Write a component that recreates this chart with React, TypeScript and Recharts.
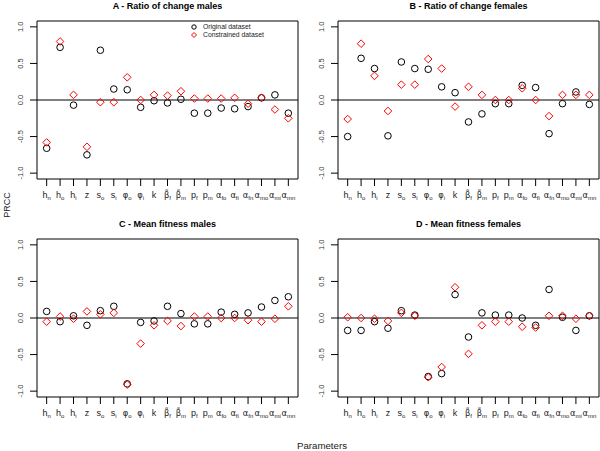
import React from "react"
import { ScatterChart, Scatter, XAxis, YAxis, ReferenceLine, ReferenceArea } from "recharts"

// parameter names on the x axis: base symbol + subscript
const tickBase = ["h", "h", "h", "z", "s", "s", "φ", "φ", "k", "β̃", "β̃", "p", "p", "α", "α", "α", "α", "α", "α"]
const tickSub = ["n", "o", "i", "", "o", "i", "o", "i", "", "f", "m", "f", "m", "fo", "fi", "fn", "mo", "mi", "mn"]
const yTicks = [-1, -0.5, 0, 0.5, 1]

// A - ratio of change males
const origA = [-0.66, 0.72, -0.07, -0.75, 0.68, 0.15, 0.14, -0.1, -0.01, -0.04, 0.01, -0.18, -0.18, -0.11, -0.12, -0.09, 0.03, 0.07, -0.18]
const consA = [-0.58, 0.8, 0.07, -0.64, -0.03, -0.03, 0.31, 0.0, 0.07, 0.06, 0.12, 0.02, 0.02, 0.02, 0.03, -0.05, 0.03, -0.13, -0.25]
// B - ratio of change females
const origB = [-0.5, 0.57, 0.43, -0.49, 0.52, 0.43, 0.42, 0.18, 0.1, -0.3, -0.19, -0.05, -0.05, 0.2, 0.17, -0.46, -0.05, 0.11, -0.06]
const consB = [-0.26, 0.77, 0.33, -0.15, 0.21, 0.21, 0.56, 0.43, -0.09, 0.18, 0.07, 0.0, 0.0, 0.16, 0.0, -0.22, 0.07, 0.07, 0.07]
// C - mean fitness males
const origC = [0.09, -0.05, 0.03, -0.1, 0.1, 0.16, -0.9, -0.06, -0.04, 0.16, 0.06, -0.08, -0.08, 0.08, 0.05, 0.07, 0.15, 0.24, 0.29]
const consC = [-0.05, 0.02, -0.01, 0.09, 0.05, 0.07, -0.91, -0.35, -0.1, -0.04, -0.11, 0.02, 0.02, 0.0, 0.0, -0.03, -0.05, -0.01, 0.16]
// D - mean fitness females
const origD = [-0.17, -0.17, -0.05, -0.14, 0.1, 0.04, -0.8, -0.76, 0.32, -0.26, 0.07, 0.04, 0.04, 0.0, -0.1, 0.39, 0.01, -0.17, 0.03]
const consD = [0.01, 0.0, -0.01, -0.04, 0.07, 0.03, -0.81, -0.67, 0.42, -0.49, -0.1, -0.05, -0.05, -0.12, -0.13, 0.03, 0.03, -0.01, 0.03]

const FONT = '"Liberation Sans", Arial, Helvetica, sans-serif'
const GREEK = '"DejaVu Sans", "Noto Sans", sans-serif'
const X0 = 0.28
const X1 = 19.72
const Y0 = -1.08
const Y1 = 1.08

const isGreek = (s: string) => /[α-ω]/.test(s)

const circleShape = (p: any) => (
  <circle cx={p.cx} cy={p.cy} r={3.3} fill="none" stroke="#000" strokeWidth={1} />
)
const diamondShape = (p: any) => {
  const d = 3.8
  return (
    <path
      d={`M${p.cx},${p.cy - d}L${p.cx + d},${p.cy}L${p.cx},${p.cy + d}L${p.cx - d},${p.cy}Z`}
      fill="none"
      stroke="#ff0000"
      strokeWidth={1}
    />
  )
}

const XTick = (p: any) => {
  const i = Math.round(p.payload.value) - 1
  const base = tickBase[i]
  const greek = isGreek(base)
  return (
    <text x={p.x} y={p.y + 10} textAnchor="middle" fontFamily={FONT} fill="#222" opacity={0.99}>
      <tspan fontSize={greek ? 8.3 : 9} fontFamily={greek ? GREEK : FONT}>
        {base}
      </tspan>
      {tickSub[i] && (
        <tspan fontSize={6} dy={2}>
          {tickSub[i]}
        </tspan>
      )}
    </text>
  )
}

const YTick = (p: any) => (
  <text
    x={p.x}
    y={p.y}
    transform={`rotate(-90, ${p.x}, ${p.y})`}
    textAnchor="middle"
    fontFamily={FONT}
    fontSize={7.5}
    fill="#333"
  >
    {p.payload.value.toFixed(1)}
  </text>
)

function Panel({ orig, cons, left, top }: { orig: number[]; cons: number[]; left: number; top: number }) {
  const o = orig.map((v, i) => ({ x: i + 1, y: v }))
  const c = cons.map((v, i) => ({ x: i + 1, y: v }))
  const isLeft = left === 0
  return (
    <div style={{ position: "absolute", left, top }}>
      <ScatterChart
        width={300}
        height={220}
        margin={{ top: 21, right: isLeft ? 2 : 1, bottom: 11, left: isLeft ? 0 : 1 }}
      >
        <XAxis
          type="number"
          dataKey="x"
          domain={[X0, X1]}
          ticks={tickBase.map((_, i) => i + 1)}
          interval={0}
          axisLine={false}
          tickSize={7}
          tickLine={{ stroke: "#000" }}
          tickMargin={2}
          height={30}
          tick={<XTick />}
        />
        <YAxis
          type="number"
          dataKey="y"
          domain={[Y0, Y1]}
          ticks={yTicks}
          interval={0}
          axisLine={false}
          width={37}
          tickSize={7}
          tickLine={{ stroke: "#000" }}
          tickMargin={7}
          tick={<YTick />}
        />
        <ReferenceArea x1={X0} x2={X1} y1={Y0} y2={Y1} fill="none" stroke="#000" strokeWidth={1} />
        <ReferenceLine y={0} stroke="#000" strokeWidth={1.2} />
        <Scatter data={o} shape={circleShape} isAnimationActive={false} />
        <Scatter data={c} shape={diamondShape} isAnimationActive={false} />
      </ScatterChart>
    </div>
  )
}

export default function App() {
  return (
    <div
      style={{
        position: "absolute",
        left: 0,
        top: 0,
        width: 600,
        height: 451,
        background: "#fff",
        overflow: "hidden",
      }}
    >
      <Panel orig={origA} cons={consA} left={0} top={0} />
      <Panel orig={origB} cons={consB} left={300} top={0} />
      <Panel orig={origC} cons={consC} left={0} top={218} />
      <Panel orig={origD} cons={consD} left={300} top={218} />
      <svg
        width={600}
        height={451}
        style={{ position: "absolute", left: 0, top: 0, pointerEvents: "none" }}
        fontFamily={FONT}
      >
        <g fontSize={9} fontWeight="bold" textAnchor="middle" fill="#000">
          <text x={167.5} y={8.6}>A - Ratio of change males</text>
          <text x={468.5} y={8.6}>B - Ratio of change females</text>
          <text x={167.5} y={226.6}>C - Mean fitness males</text>
          <text x={468.5} y={226.6}>D - Mean fitness females</text>
        </g>
        <text x={10} y={205} fontSize={9} textAnchor="middle" transform="rotate(-90, 10, 205)" fill="#222">
          PRCC
        </text>
        <text x={322} y={448.5} fontSize={9.7} textAnchor="middle" fill="#222">
          Parameters
        </text>
        {/* legend of panel A */}
        <circle cx={194} cy={27} r={2.2} fill="none" stroke="#000" strokeWidth={1} />
        <path d="M194,32.5L196.5,35L194,37.5L191.5,35Z" fill="none" stroke="#ff0000" strokeWidth={1} />
        <g fontSize={6.8} fill="#222">
          <text x={203} y={29.4}>Original dataset</text>
          <text x={203} y={37.4}>Constrained dataset</text>
        </g>
      </svg>
    </div>
  )
}
